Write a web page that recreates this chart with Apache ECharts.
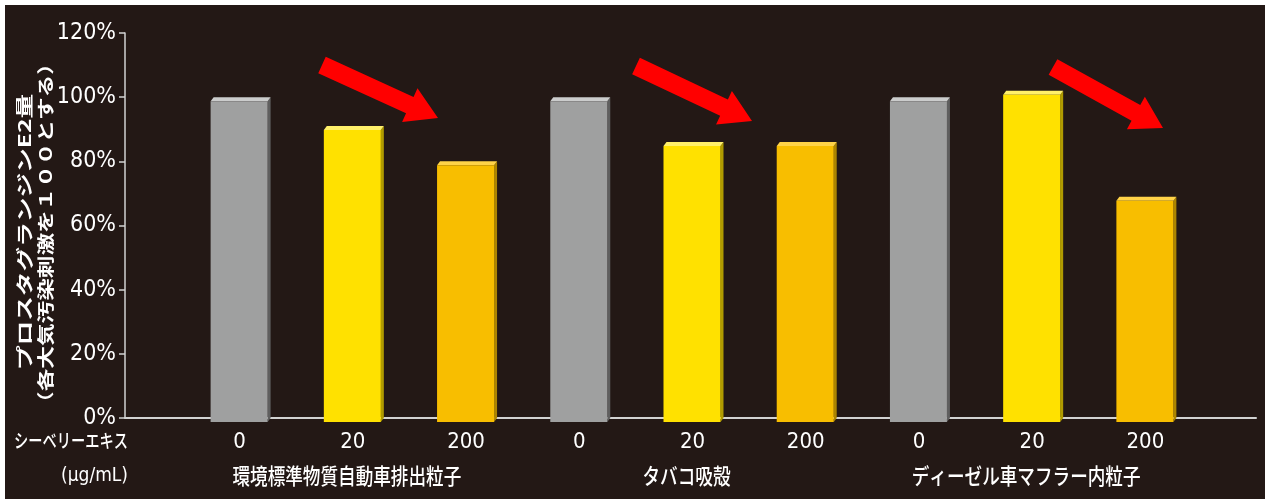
<!DOCTYPE html>
<html>
<head>
<meta charset="utf-8">
<script src="https://cdn.jsdelivr.net/npm/echarts@6/dist/echarts.min.js"></script>
<style>
html,body{margin:0;padding:0;background:#fff;}
#chart{width:1265px;height:499px;
background:linear-gradient(#fff,#fff) left top/100% 5px no-repeat,linear-gradient(#fff,#fff) left top/5px 100% no-repeat,#231815;}
</style>
</head>
<body>
<div id="chart"></div>
<script>
// ---- data ----
const doses = ['0', '20', '200', '0', '20', '200', '0', '20', '200'];
const groups = ['環境標準物質自動車排出粒子', 'タバコ吸殻', 'ディーゼル車マフラー内粒子'];
const values = [100, 91, 80, 100, 86, 86, 100, 102, 69];
const yMin = 0, yMax = 120, yStep = 20;

// ---- styles ----
const NUM_FONT = '"Liberation Sans Narrow","DejaVu Sans Condensed","Liberation Sans",sans-serif';
const JP_FONT = '"Noto Sans CJK JP","Noto Sans CJK SC",sans-serif';
const faceColors = {
  '0':   { front: '#9fa0a0', top: '#cbcccc', side: '#5f5f5f' },
  '20':  { front: '#ffe100', top: '#fff06a', side: '#b09b00' },
  '200': { front: '#f8be00', top: '#ffd348', side: '#ad8500' }
};
// decorative arrows: [tailX, tailY, tipX, tipY]
const arrows = [[322, 65, 438, 118], [636, 66, 752, 121], [1053, 67, 1163, 128]];

function arrowShape(a) {
  const [tx, ty, hx, hy] = a;
  const ddx = hx - tx, ddy = hy - ty;
  const len = Math.sqrt(ddx * ddx + ddy * ddy);
  const ux = ddx / len, uy = ddy / len, px = -uy, py = ux;
  const sw = 9, hl = 31, hw = 18.5;
  const loc = [[0, -sw], [len - hl, -sw], [len - hl, -hw], [len, 0], [len - hl, hw], [len - hl, sw], [0, sw]];
  return loc.map(p => [tx + ux * p[0] + px * p[1], ty + uy * p[0] + py * p[1]]);
}

const chart = echarts.init(document.getElementById('chart'));
const baseGraphics = [
  ...arrows.map(a => ({ type: 'polygon', shape: { points: arrowShape(a) }, style: { fill: '#ff0000' }, z: 10 })),
  { type: 'text', x: 25, y: 232, rotation: Math.PI / 2, scaleX: 1.45,
    style: { text: 'プロスタグランジンE2量', fill: '#fff', font: 'bold 17px ' + JP_FONT, align: 'center', verticalAlign: 'middle' } },
  { type: 'text', x: 46, y: 233, rotation: Math.PI / 2, scaleX: 1.33,
    style: { text: '（各大気汚染刺激を１００とする）', fill: '#fff', font: 'bold 17px ' + JP_FONT, align: 'center', verticalAlign: 'middle' } },
  { type: 'text', x: 128, y: 441, scaleX: 0.75,
    style: { text: 'シーベリーエキス', fill: '#fff', font: '500 19px ' + JP_FONT, align: 'right', verticalAlign: 'middle' } },
  { type: 'text', x: 128, y: 476,
    style: { text: '(μg/mL)', fill: '#fff', font: '19px ' + NUM_FONT, align: 'right', verticalAlign: 'middle' } }
];
const option = {
  backgroundColor: 'transparent',
  animation: false,
  grid: [
    { left: 183, right: 63, top: 33, bottom: 81 },
    { left: 125, right: 9, top: 33, bottom: 81 }
  ],
  xAxis: [
    {
      type: 'category', gridIndex: 0, data: doses,
      axisLine: { show: false }, axisTick: { show: false },
      axisLabel: { color: '#fff', fontSize: 22, fontFamily: NUM_FONT, margin: 13, interval: 0 }
    },
    {
      type: 'value', gridIndex: 1, min: 0, max: 1,
      axisLine: { show: true, lineStyle: { color: '#d2d2d2', width: 2 } },
      axisTick: { show: false }, axisLabel: { show: false }, splitLine: { show: false }
    }
  ],
  yAxis: [
    {
      type: 'value', gridIndex: 0, min: yMin, max: yMax, interval: yStep, offset: 58,
      axisLine: { show: true, lineStyle: { color: '#d2d2d2', width: 1.5 } },
      axisTick: { show: true, inside: false, length: 6, lineStyle: { color: '#d2d2d2', width: 1.5 } },
      axisLabel: { color: '#fff', fontSize: 23, fontFamily: NUM_FONT, margin: 9, formatter: '{value}%' },
      splitLine: { show: false }
    },
    { type: 'value', gridIndex: 1, show: false, min: 0, max: 1 }
  ],
  series: [{
    type: 'custom',
    xAxisIndex: 0, yAxisIndex: 0,
    data: values.map((v, i) => [i, v]),
    encode: { x: 0, y: 1 },
    z: 5,
    renderItem: function (params, api) {
      const idx = api.value(0);
      const v = api.value(1);
      const top = api.coord([idx, v]);
      const base = api.coord([idx, 0]);
      const c = top[0];
      const dx = 3, dy = 4;
      const L = c - 29, R = c + 28;
      const ft = top[1] + dy, fb = base[1] + dy;
      const col = faceColors[doses[idx]];
      return {
        type: 'group',
        children: [
          { type: 'polygon', shape: { points: [[R, ft], [R + dx, ft - dy], [R + dx, fb - dy], [R, fb]] }, style: { fill: col.side } },
          { type: 'polygon', shape: { points: [[L, ft], [L + dx, ft - dy], [R + dx, ft - dy], [R, ft]] }, style: { fill: col.top } },
          { type: 'rect', shape: { x: L, y: ft, width: R - L, height: fb - ft }, style: { fill: col.front } }
        ]
      };
    }
  }],
  graphic: baseGraphics
};
chart.setOption(option);

// group labels centred under the middle bar of each group, via the category axis scale
const groupLabels = groups.map((g, gi) => {
  const cx = chart.convertToPixel({ xAxisIndex: 0 }, gi * 3 + 1);
  return { type: 'text', x: cx - 6, y: 476, scaleX: 0.8,
    style: { text: g, fill: '#fff', font: '500 22px ' + JP_FONT, align: 'center', verticalAlign: 'middle' } };
});
chart.setOption({ graphic: baseGraphics.concat(groupLabels) }, { replaceMerge: ['graphic'] });
</script>
</body>
</html>
